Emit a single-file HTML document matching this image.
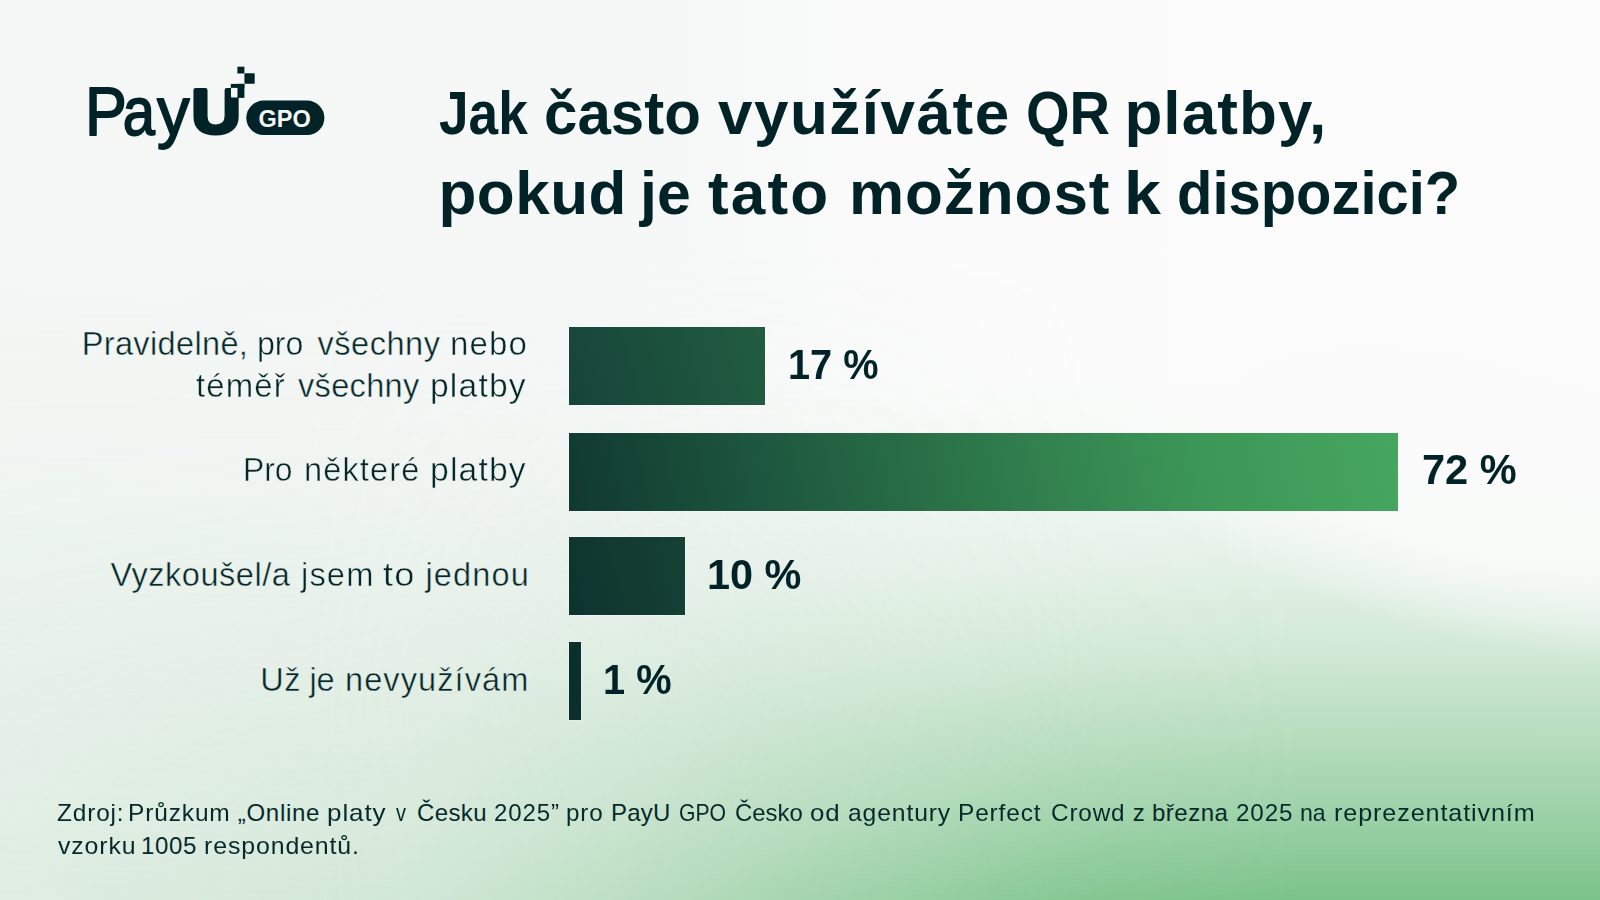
<!DOCTYPE html>
<html lang="cs">
<head>
<meta charset="utf-8">
<title>Jak často využíváte QR platby</title>
<style>
  html, body { margin: 0; padding: 0; }
  body {
    width: 1600px; height: 900px; overflow: hidden;
    font-family: "Liberation Sans", sans-serif;
    color: #012327;
    background: #f5f7f6;
  }
  #stage {
    position: relative; width: 1600px; height: 900px; overflow: hidden;
    background: linear-gradient(90deg, #f4f7f5 0%, #f6f8f7 40%, #fafbfa 60%, #fcfcfc 100%);
  }
  #glow {
    position: absolute; left: 0; top: 0; width: 1600px; height: 900px;
    background: linear-gradient(180deg,
      rgba(120,193,135,0) 380px,
      rgba(120,193,135,0.04) 455px,
      rgba(120,193,135,0.11) 515px,
      rgba(120,193,135,0.18) 570px,
      rgba(120,193,135,0.33) 655px,
      rgba(120,193,135,0.50) 725px,
      rgba(120,193,135,0.67) 795px,
      rgba(120,193,135,0.98) 900px);
    -webkit-mask-image: linear-gradient(90deg, rgba(0,0,0,0.12) 0px, rgba(0,0,0,0.25) 400px, rgba(0,0,0,0.43) 600px, rgba(0,0,0,0.65) 800px, rgba(0,0,0,0.85) 1000px, rgba(0,0,0,0.93) 1100px, #000 1300px);
    mask-image: linear-gradient(90deg, rgba(0,0,0,0.12) 0px, rgba(0,0,0,0.25) 400px, rgba(0,0,0,0.43) 600px, rgba(0,0,0,0.65) 800px, rgba(0,0,0,0.85) 1000px, rgba(0,0,0,0.93) 1100px, #000 1300px);
  }
  #tint {
    position: absolute; left: 0; top: 0; width: 1600px; height: 900px;
    background: linear-gradient(180deg, rgba(216,233,220,0) 250px, rgba(216,233,220,0.13) 500px, rgba(216,233,220,0.26) 700px, rgba(216,233,220,0.2) 900px);
    -webkit-mask-image: linear-gradient(90deg, #000 0px, #000 300px, rgba(0,0,0,0) 1100px);
    mask-image: linear-gradient(90deg, #000 0px, #000 300px, rgba(0,0,0,0) 1100px);
  }
  #white {
    position: absolute; left: 1050px; top: 300px; width: 860px; height: 340px;
    transform: rotate(14deg);
    background: radial-gradient(closest-side, rgba(250,251,250,0.9) 0%, rgba(250,251,250,0.9) 50%, rgba(250,251,250,0) 100%);
  }
  .abs { position: absolute; white-space: nowrap; }

  /* title */
  h1 { margin: 0; font-weight: bold; font-size: 62px; line-height: 1; color: #012327; }
  .tw, .lw, .sw, .vw { position: absolute; display: block; white-space: nowrap; line-height: 1; transform-origin: 0 50%; }
  .tw { font-size: 62px; font-weight: bold; color: #012327; }

  /* chart */
  .lw { font-size: 32.5px; color: #04272a; -webkit-text-stroke: 0.45px #f1f5f2; }
  .r3 { -webkit-text-stroke-color: #eaf2ec; }
  .r4 { -webkit-text-stroke-color: #e6f0e8; }
  .vw { font-size: 42px; font-weight: bold; color: #012327; }
  .bar { position: absolute; left: 569px; height: 78px; box-shadow: 0 0 0 1px rgba(255,255,255,0.3); }
  .row, .lab, .src, p { margin: 0; }

  /* footer */
  .sw { font-size: 24px; color: #062a2c; }
</style>
</head>
<body>
<div id="stage">
  <div id="tint"></div>
  <div id="glow"></div>
  <div id="white"></div>

  <!-- logo -->
  <svg class="abs" style="left:80px;top:55px" width="260" height="110" viewBox="80 55 260 110">
    <g fill="#012327" font-family="'Liberation Sans', sans-serif">
      <text y="135" font-size="69" stroke="#012327" stroke-width="1.8" stroke-linejoin="round"><tspan x="85" textLength="41.8" lengthAdjust="spacingAndGlyphs">P</tspan><tspan x="122.8" textLength="32.2" lengthAdjust="spacingAndGlyphs">a</tspan><tspan x="156.9" textLength="32.6" lengthAdjust="spacingAndGlyphs">y</tspan></text>
      <text x="191.4" y="132.8" font-size="63.5" font-weight="bold" stroke="#012327" stroke-width="4" stroke-linejoin="round" textLength="49.2" lengthAdjust="spacingAndGlyphs">U</text>
      <rect x="231" y="87.8" width="6.8" height="9.8" rx="1" fill="#f5f7f6"/>
      <rect x="230.8" y="83.9" width="13.6" height="4"/>
      <rect x="237.6" y="83.9" width="6.8" height="14"/>
      <rect x="237.4" y="66.7" width="7" height="6.8"/>
      <rect x="244.4" y="73.3" width="10.3" height="10.4" rx="0.8"/>
      <rect x="246.3" y="100.6" width="78.1" height="34.4" rx="17.2"/>
      <text x="258.6" y="127" font-size="23.5" font-weight="bold" fill="#f5f7f6">GPO</text>
    </g>
  </svg>

  <!-- title -->
  <h1>
    <span class="tw" style="left:438.64px;top:81.72px;transform:scaleX(0.8578)">Jak</span>
    <span class="tw" style="left:543.66px;top:81.72px;transform:scaleX(0.9682)">často</span>
    <span class="tw" style="left:718.00px;top:81.72px;letter-spacing:1.500px">využíváte</span>
    <span class="tw" style="left:1025.69px;top:81.72px;transform:scaleX(0.9045)">QR</span>
    <span class="tw" style="left:1124.40px;top:81.72px;letter-spacing:1.100px">platby,</span>
    <span class="tw" style="left:438.50px;top:161.72px;letter-spacing:0.500px">pokud</span>
    <span class="tw" style="left:639.73px;top:161.72px;transform:scaleX(0.9804)">je</span>
    <span class="tw" style="left:708.00px;top:161.72px;letter-spacing:2.133px">tato</span>
    <span class="tw" style="left:849.00px;top:161.72px;letter-spacing:0.933px">možnost</span>
    <span class="tw" style="left:1123.92px;top:161.72px;transform:scaleX(1.0700)">k</span>
    <span class="tw" style="left:1176.70px;top:161.72px;transform:scaleX(0.9343)">dispozici?</span>
  </h1>

  <!-- row 1 -->
  <div class="row">
    <div class="lab">
    <span class="lw" style="left:81.70px;top:328.09px;letter-spacing:0.360px">Pravidelně,</span>
    <span class="lw" style="left:257.02px;top:328.09px;transform:scaleX(0.9886)">pro</span>
    <span class="lw" style="left:317.50px;top:328.09px;letter-spacing:0.533px">všechny</span>
    <span class="lw" style="left:450.47px;top:328.09px;letter-spacing:1.138px;transform:scaleX(1.0150)">nebo</span>
    <span class="lw" style="left:196.10px;top:370.09px;letter-spacing:1.138px;transform:scaleX(1.0131)">téměř</span>
    <span class="lw" style="left:298.00px;top:370.09px;letter-spacing:0.333px">všechny</span>
    <span class="lw" style="left:430.13px;top:370.09px;letter-spacing:1.138px;transform:scaleX(1.0343)">platby</span>
    </div>
    <div class="bar" style="top:327px;width:196px;background:linear-gradient(74deg,#17443a 0%,#1c513d 50%,#215d41 100%)"></div>
    <div class="val"><span class="vw" style="left:787.66px;top:344.15px;transform:scaleX(0.9457)">17 %</span></div>
  </div>

  <!-- row 2 -->
  <div class="row">
    <div class="lab">
    <span class="lw" style="left:243.32px;top:453.69px;transform:scaleX(0.9783)">Pro</span>
    <span class="lw" style="left:303.90px;top:453.69px;letter-spacing:1.138px;transform:scaleX(1.0007)">některé</span>
    <span class="lw" style="left:429.83px;top:453.69px;letter-spacing:1.138px;transform:scaleX(1.0354)">platby</span>
    </div>
    <div class="bar" style="top:433px;width:829px;background:linear-gradient(78deg,#103930 0%,#1e583f 25%,#2d784a 50%,#3c9657 75%,#46a660 100%)"></div>
    <div class="val"><span class="vw" style="left:1422.02px;top:449.15px;transform:scaleX(0.9892)">72 %</span></div>
  </div>

  <!-- row 3 -->
  <div class="row">
    <div class="lab">
    <span class="lw r3" style="left:110.50px;top:558.79px;letter-spacing:0.530px">Vyzkoušel/a</span>
    <span class="lw r3" style="left:301.20px;top:558.79px;letter-spacing:1.138px;transform:scaleX(1.0041)">jsem</span>
    <span class="lw r3" style="left:383.30px;top:558.79px;letter-spacing:1.138px;transform:scaleX(1.1129)">to</span>
    <span class="lw r3" style="left:425.50px;top:558.79px;letter-spacing:1.138px">jednou</span>
    </div>
    <div class="bar" style="top:537px;width:115.5px;background:linear-gradient(74deg,#0d332e 0%,#113a31 45%,#154135 100%)"></div>
    <div class="val"><span class="vw" style="left:707.04px;top:553.85px;transform:scaleX(0.9859)">10 %</span></div>
  </div>

  <!-- row 4 -->
  <div class="row">
    <div class="lab">
    <span class="lw r4" style="left:260.30px;top:663.69px;letter-spacing:0.600px">Už</span>
    <span class="lw r4" style="left:309.40px;top:663.69px">je</span>
    <span class="lw r4" style="left:345.00px;top:663.69px;letter-spacing:1.100px">nevyužívám</span>
    </div>
    <div class="bar" style="top:642px;width:12px;background:#0a2f2c"></div>
    <div class="val"><span class="vw" style="left:603.16px;top:658.65px;transform:scaleX(0.9471)">1 %</span></div>
  </div>

  <!-- source -->
  <p class="src">
    <span class="sw" style="left:56.98px;top:800.58px;letter-spacing:0.840px;transform:scaleX(1.0169)">Zdroj:</span>
    <span class="sw" style="left:127.96px;top:800.58px;letter-spacing:0.840px;transform:scaleX(1.0204)">Průzkum</span>
    <span class="sw" style="left:237.75px;top:800.58px;letter-spacing:0.708px">„Online</span>
    <span class="sw" style="left:327.33px;top:800.58px;letter-spacing:0.840px;transform:scaleX(1.0838)">platy</span>
    <span class="sw" style="left:396.25px;top:800.58px;transform:scaleX(0.8333)">v</span>
    <span class="sw" style="left:417.00px;top:800.58px;letter-spacing:0.375px">Česku</span>
    <span class="sw" style="left:493.50px;top:800.58px;letter-spacing:0.840px;transform:scaleX(1.0022)">2025”</span>
    <span class="sw" style="left:565.98px;top:800.58px;letter-spacing:0.840px;transform:scaleX(1.0095)">pro</span>
    <span class="sw" style="left:611.00px;top:800.58px;letter-spacing:0.250px">PayU</span>
    <span class="sw" style="left:679.12px;top:800.58px;transform:scaleX(0.8824)">GPO</span>
    <span class="sw" style="left:735.25px;top:800.58px;transform:scaleX(0.9962)">Česko</span>
    <span class="sw" style="left:810.17px;top:800.58px;letter-spacing:0.840px;transform:scaleX(1.0769)">od</span>
    <span class="sw" style="left:847.72px;top:800.58px;letter-spacing:0.840px;transform:scaleX(1.0293)">agentury</span>
    <span class="sw" style="left:957.96px;top:800.58px;letter-spacing:0.840px;transform:scaleX(1.0185)">Perfect</span>
    <span class="sw" style="left:1051.49px;top:800.58px;letter-spacing:0.840px;transform:scaleX(1.0126)">Crowd</span>
    <span class="sw" style="left:1132.75px;top:800.58px">z</span>
    <span class="sw" style="left:1152.00px;top:800.58px;letter-spacing:0.500px">března</span>
    <span class="sw" style="left:1236.49px;top:800.58px;letter-spacing:0.840px;transform:scaleX(1.0108)">2025</span>
    <span class="sw" style="left:1299.97px;top:800.58px;transform:scaleX(0.9640)">na</span>
    <span class="sw" style="left:1334.15px;top:800.58px;letter-spacing:0.840px;transform:scaleX(1.0488)">reprezentativním</span>
    <span class="sw" style="left:58.00px;top:834.08px;letter-spacing:0.840px;transform:scaleX(1.0348)">vzorku</span>
    <span class="sw" style="left:141.00px;top:834.08px;letter-spacing:0.667px">1005</span>
    <span class="sw" style="left:204.17px;top:834.08px;letter-spacing:0.840px;transform:scaleX(1.0379)">respondentů.</span>
  </p>

</div>
</body>
</html>
